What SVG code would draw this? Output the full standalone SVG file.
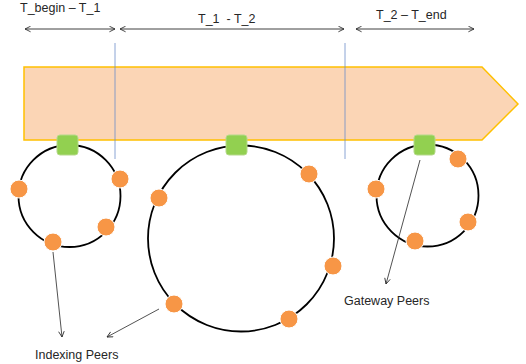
<svg xmlns="http://www.w3.org/2000/svg" width="526" height="364" viewBox="0 0 526 364">
  <defs>
    <marker id="open" viewBox="0 0 10 10" refX="9" refY="5" markerWidth="7" markerHeight="7" orient="auto-start-reverse" markerUnits="userSpaceOnUse">
      <path d="M1,1 L9,5 L1,9" fill="none" stroke="#262626" stroke-width="1.2"/>
    </marker>
  </defs>
  <style>
    .lbl { font-family: "Liberation Sans", Arial, sans-serif; font-size: 12.5px; fill: #262626; white-space: pre; }
    .ring { fill: none; stroke: #000; stroke-width: 1.8; }
    .peer { fill: #F79646; stroke: #fff; stroke-width: 1; }
    .gw { fill: #92D050; stroke: #B5D98A; stroke-width: 1; }
    .span { stroke: #404040; stroke-width: 1; fill: none; marker-start: url(#open); marker-end: url(#open); }
    .tick { stroke: #6C8EC9; stroke-width: 0.8; }
    .ptr { stroke: #262626; stroke-width: 0.8; fill: none; marker-end: url(#open); }
  </style>

  <!-- time spans -->
  <g id="spans">
    <text class="lbl" x="20" y="12">T_begin – T_1</text>
    <text class="lbl" x="198" y="23" xml:space="preserve">T_1  - T_2</text>
    <text class="lbl" x="376" y="19">T_2 – T_end</text>
    <line class="span" x1="25" y1="29" x2="115" y2="29"/>
    <line class="span" x1="120" y1="29" x2="344" y2="29"/>
    <line class="span" x1="356" y1="29" x2="474" y2="29"/>
  </g>

  <!-- timeline band -->
  <g id="timeline">
    <polygon points="24,67 482,67 518,104 482,140 24,140" fill="#FBD5B5" stroke="#FFC000" stroke-width="1.5"/>
  </g>

  <!-- period boundaries -->
  <g id="boundaries">
    <line class="tick" x1="115" y1="43" x2="115" y2="159"/>
    <line class="tick" x1="345" y1="43" x2="345" y2="159"/>
  </g>

  <!-- ring 1 -->
  <g id="ring1">
    <circle class="ring" cx="69.5" cy="196" r="51"/>
    <rect class="gw" x="57" y="135" width="21" height="20" rx="3"/>
    <circle class="peer" cx="19" cy="189" r="9"/>
    <circle class="peer" cx="120" cy="179" r="9"/>
    <circle class="peer" cx="106" cy="227" r="9"/>
    <circle class="peer" cx="53" cy="242" r="9"/>
  </g>

  <!-- ring 2 -->
  <g id="ring2">
    <circle class="ring" cx="241" cy="238.5" r="93"/>
    <rect class="gw" x="226" y="135" width="21" height="20" rx="3"/>
    <circle class="peer" cx="309" cy="174" r="9"/>
    <circle class="peer" cx="159" cy="198" r="9"/>
    <circle class="peer" cx="333" cy="266" r="9"/>
    <circle class="peer" cx="174" cy="304" r="9"/>
    <circle class="peer" cx="289" cy="319" r="9"/>
  </g>

  <!-- ring 3 -->
  <g id="ring3">
    <circle class="ring" cx="427.5" cy="195.5" r="51"/>
    <rect class="gw" x="414" y="135" width="21" height="20" rx="3"/>
    <circle class="peer" cx="458" cy="159" r="9"/>
    <circle class="peer" cx="376" cy="189" r="9"/>
    <circle class="peer" cx="468" cy="222" r="9"/>
    <circle class="peer" cx="415" cy="241" r="9"/>
  </g>

  <!-- callouts -->
  <g id="connectors">
    <line class="ptr" x1="420" y1="160" x2="386" y2="284"/>
    <line class="ptr" x1="53" y1="252" x2="62" y2="337"/>
    <line class="ptr" x1="159" y1="309" x2="107" y2="337"/>
  </g>

  <g id="label-gateway">
    <text class="lbl" x="344" y="305">Gateway Peers</text>
  </g>
  <g id="label-indexing">
    <text class="lbl" x="35" y="359">Indexing Peers</text>
  </g>
</svg>
